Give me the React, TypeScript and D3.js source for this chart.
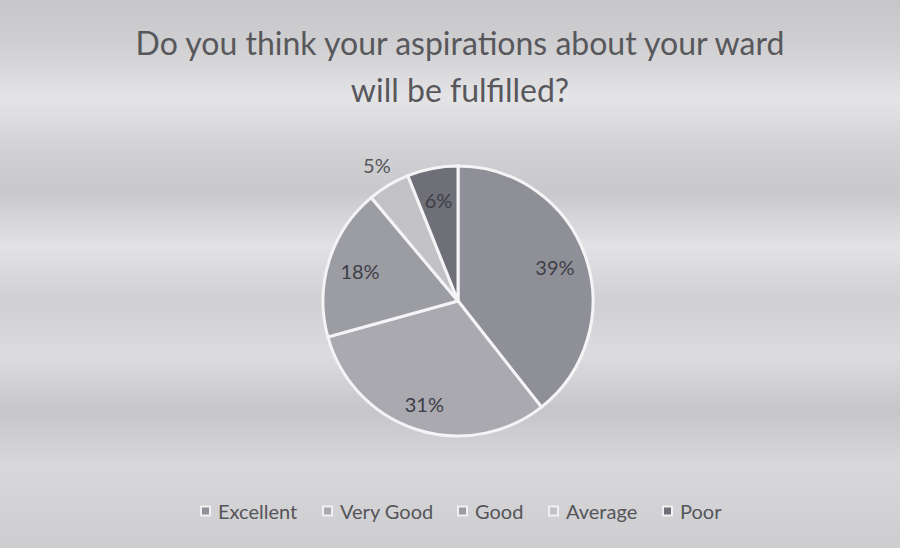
import React from "react";
import * as d3 from "d3";

const categories = ["Excellent", "Very Good", "Good", "Average", "Poor"];
const values = [39, 31, 18, 5, 6];
const labels = ["39%", "31%", "18%", "5%", "6%"];
const colors = ["#8f8f97", "#a9a9af", "#9c9ca3", "#c1c1c6", "#6f6f78"];
const titleLines = ["Do you think your aspirations about your ward", "will be fulfilled?"];

const W = 900;
const H = 548;
const cx = 458;
const cy = 301;
const R = 135;

export default function App() {
  const pie = d3.pie<number>().sort(null).value((d) => d);
  const arcs = pie(values);
  const arc = d3.arc<d3.PieArcDatum<number>>().innerRadius(0).outerRadius(R);

  const legendX = [201, 323, 458, 549, 663];

  return (
    <svg
      width={W}
      height={H}
      style={{ position: "fixed", left: 0, top: 0 }}
      fontFamily="Lato, 'Open Sans', sans-serif"
    >
      <defs>
        <linearGradient id="bg" x1="0" y1="0" x2="0" y2="1">
          <stop offset="0" stopColor="#c6c6c8" />
          <stop offset="0.08" stopColor="#cfcfd1" />
          <stop offset="0.18" stopColor="#e4e4e6" />
          <stop offset="0.27" stopColor="#d2d2d4" />
          <stop offset="0.35" stopColor="#c9c9cb" />
          <stop offset="0.45" stopColor="#e2e2e4" />
          <stop offset="0.55" stopColor="#d0d0d2" />
          <stop offset="0.65" stopColor="#dcdcde" />
          <stop offset="0.75" stopColor="#c6c6c8" />
          <stop offset="0.85" stopColor="#d8d8da" />
          <stop offset="1" stopColor="#cdcdcf" />
        </linearGradient>
      </defs>
      <rect x={0} y={0} width={W} height={H} fill="url(#bg)" />
      <g fill="#58585c" fontSize={32} textAnchor="middle">
        {titleLines.map((t, i) => (
          <text key={i} x={460} y={55 + i * 47}>
            {t}
          </text>
        ))}
      </g>
      <g transform={`translate(${cx},${cy})`}>
        {arcs.map((a, i) => (
          <path key={i} d={arc(a) || ""} fill={colors[i]} stroke="#f4f4f6" strokeWidth={3} />
        ))}
        {arcs.map((a, i) => {
          const mid = (a.startAngle + a.endAngle) / 2;
          const small = a.data <= 5;
          const r = small ? R * 1.17 : i === 1 ? R * 0.8 : R * 0.76;
          const x = Math.sin(mid) * r;
          const y = -Math.cos(mid) * r;
          return (
            <text
              key={"l" + i}
              x={x}
              y={y}
              textAnchor="middle"
              dominantBaseline="central"
              fontSize={20}
              fill={small ? "#55555c" : "#3e3e48"}
            >
              {labels[i]}
            </text>
          );
        })}
      </g>
      <g fontSize={20} fill="#55555a">
        {categories.map((c, i) => (
          <g key={c} transform={`translate(${legendX[i]},511)`}>
            <rect x={0} y={-4.5} width={9} height={9} fill={colors[i]} stroke="#f0f0f2" strokeWidth={2} />
            <text x={17} y={0} dominantBaseline="central">
              {c}
            </text>
          </g>
        ))}
      </g>
    </svg>
  );
}
